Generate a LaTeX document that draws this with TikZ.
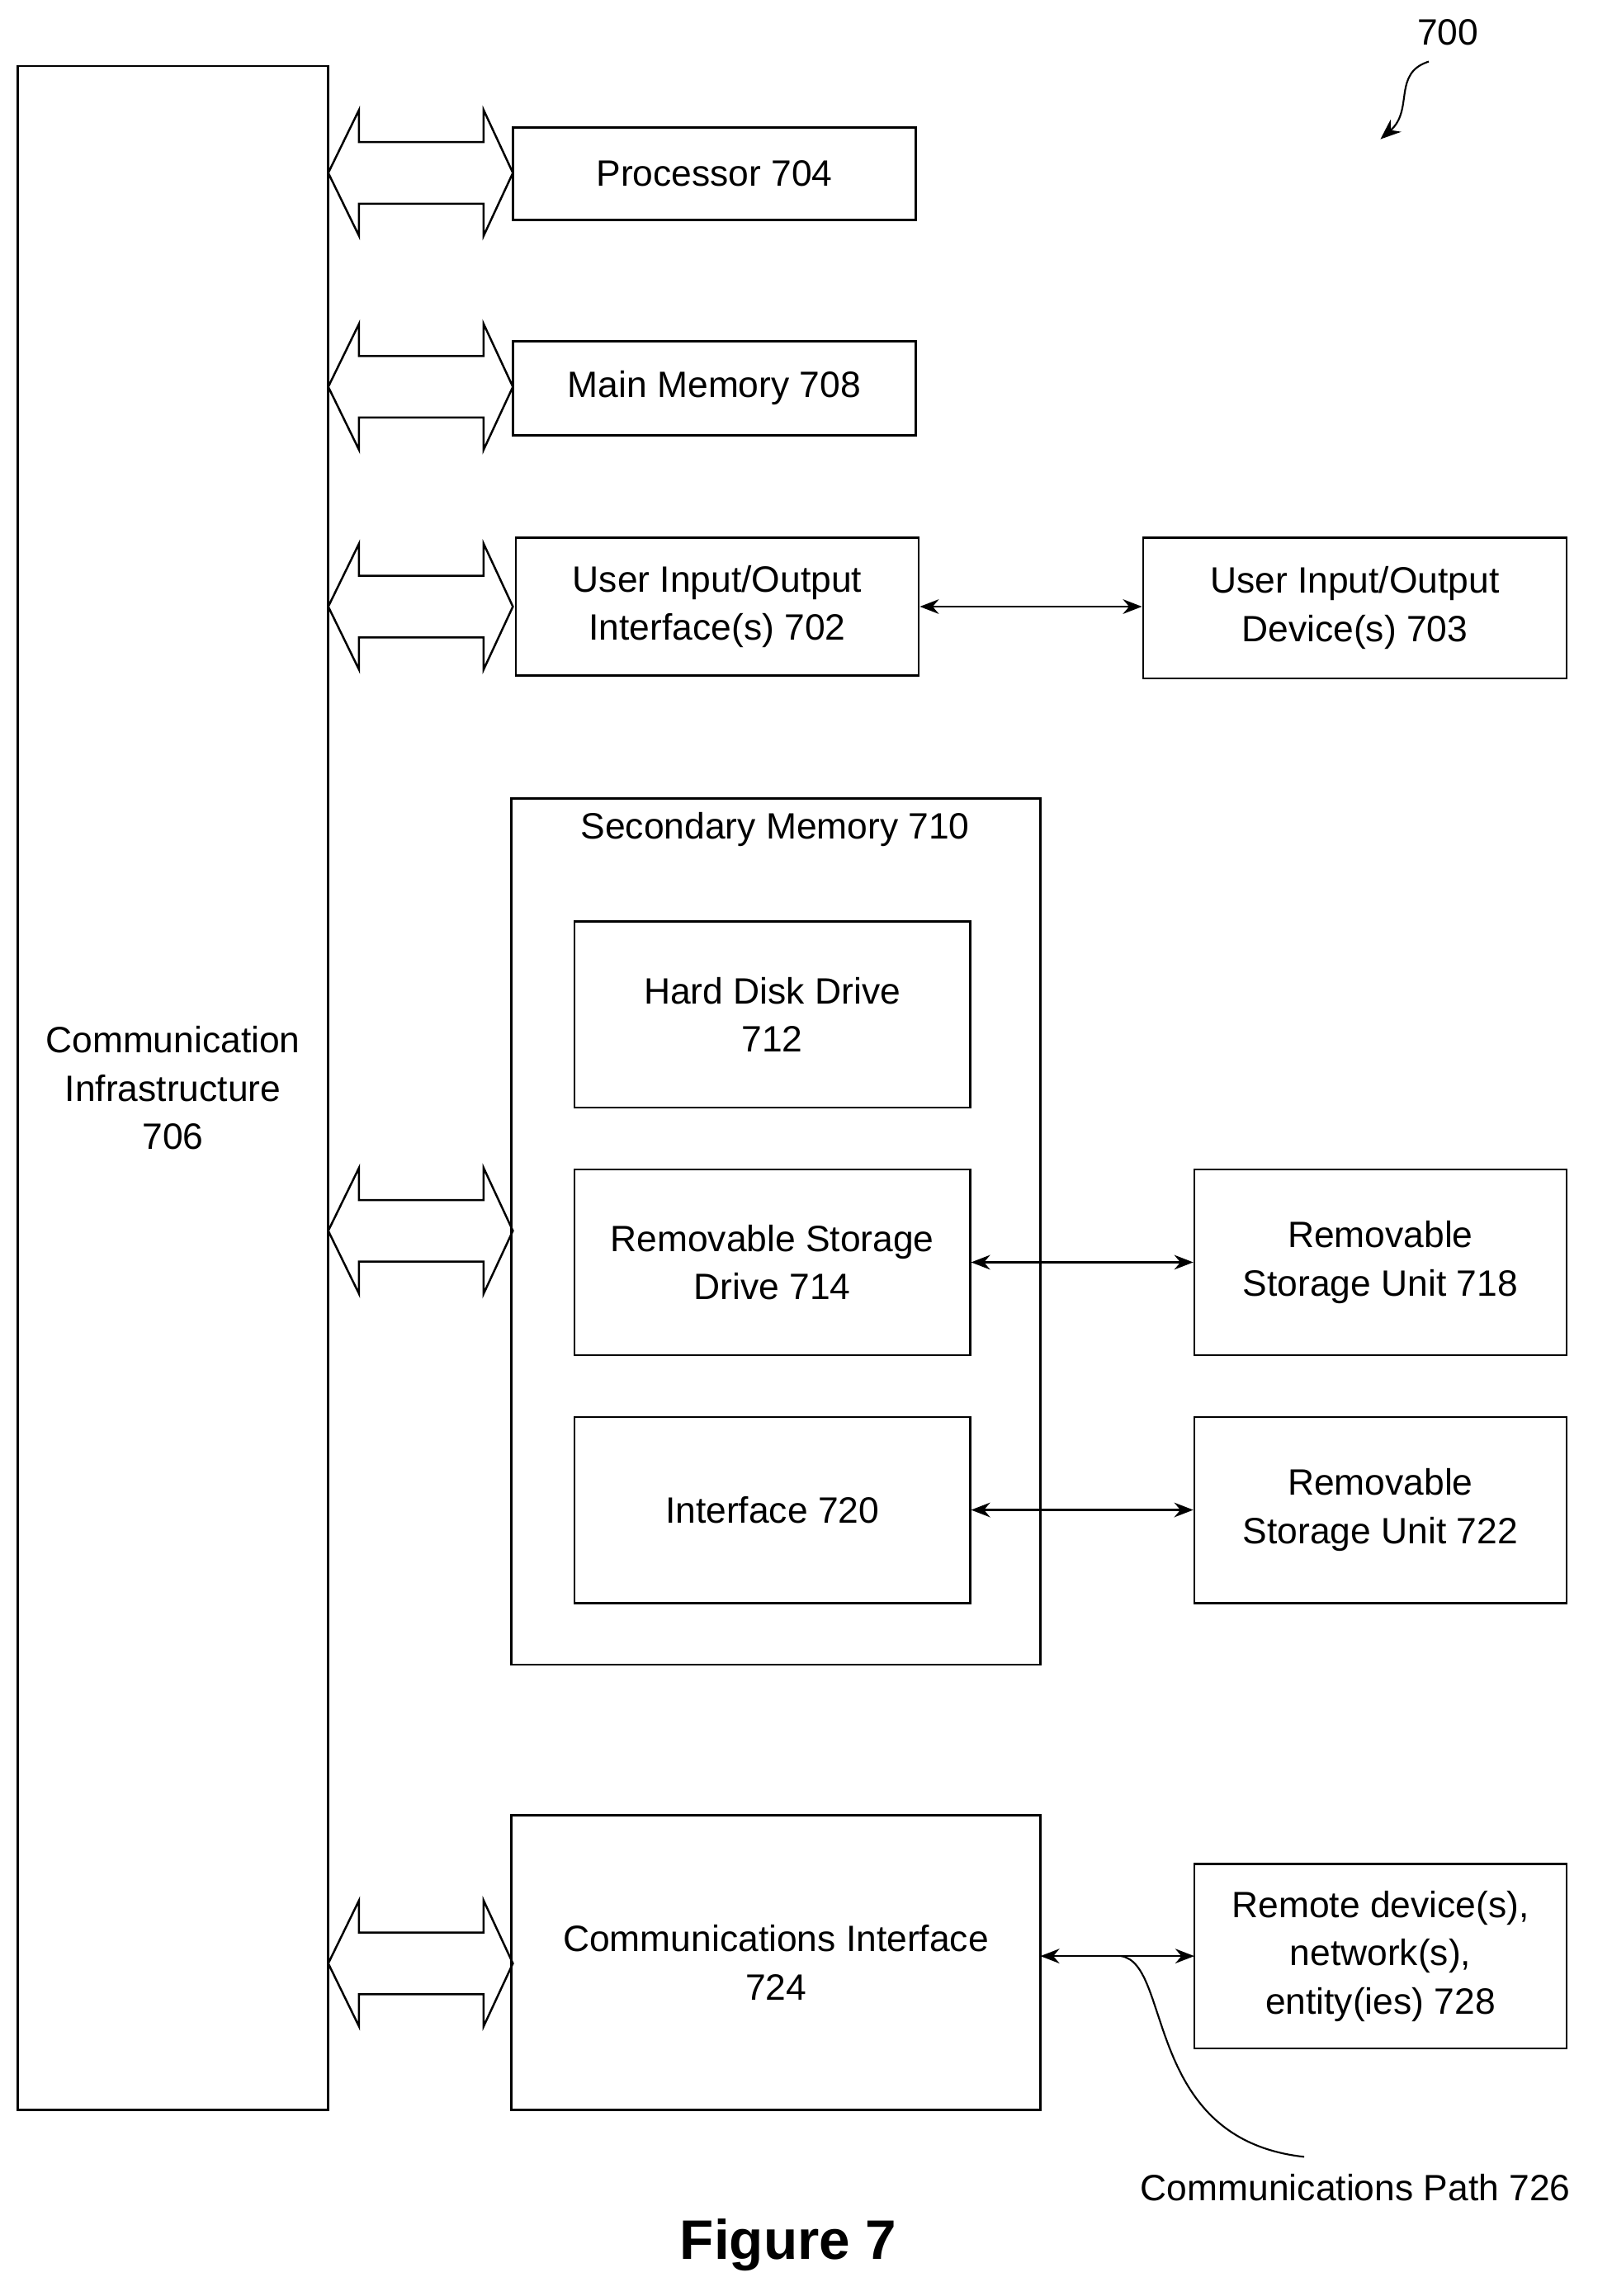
\documentclass[tikz,border=0pt]{standalone}
\usepackage{fontspec}
\setmainfont{Liberation Sans}
\usetikzlibrary{arrows.meta}
\begin{document}
\begin{tikzpicture}[x=1pt,y=-1pt,line width=1.4pt,
  box/.style={draw,align=center,inner sep=0pt,font=\fontsize{25}{33}\selectfont},
  conn/.style={{Stealth[length=13pt,width=10pt]}-{Stealth[length=13pt,width=10pt]}}]
\useasboundingbox (0,0) rectangle (1100,1567);
\newcommand\mkbox[6]{\node[box,minimum width=#4-#2,minimum height=#5-#3] (#1) at ({(#2+#4)/2},{(#3+#5)/2}) {#6};}
\newcommand\dblarrow[1]{\draw (224,#1) -- (245,#1-43) -- (245,#1-21) -- (330,#1-21) -- (330,#1-43) -- (350,#1) -- (330,#1+43) -- (330,#1+21) -- (245,#1+21) -- (245,#1+43) -- cycle;}
\mkbox{ci}{12}{45}{224}{1440}{Communication\\Infrastructure\\706}
\mkbox{proc}{350}{87}{625}{150}{Processor 704}
\mkbox{mm}{350}{233}{625}{297}{Main Memory 708}
\mkbox{uio}{352}{367}{627}{461}{User Input/Output\\Interface(s) 702}
\mkbox{uiod}{780}{367}{1069}{463}{User Input/Output\\Device(s) 703}
\mkbox{sm}{349}{545}{710}{1136}{}
\node[font=\fontsize{25}{33}\selectfont] (smlabel) at (529,566) {Secondary Memory 710};
\mkbox{hdd}{392}{629}{662}{756}{Hard Disk Drive\\712}
\mkbox{rsd}{392}{798}{662}{925}{Removable Storage\\Drive 714}
\mkbox{rsu}{815}{798}{1069}{925}{Removable\\Storage Unit 718}
\mkbox{intf}{392}{967}{662}{1094}{Interface 720}
\mkbox{rsu2}{815}{967}{1069}{1094}{Removable\\Storage Unit 722}
\mkbox{comi}{349}{1239}{710}{1440}{Communications Interface\\724}
\mkbox{rem}{815}{1272}{1069}{1398}{Remote device(s),\\network(s),\\entity(ies) 728}
\dblarrow{118}\dblarrow{264}\dblarrow{414}\dblarrow{840}\dblarrow{1340}
\draw[conn,line width=1.2pt] (uio.east) -- (uio.east -| uiod.west);
\draw[conn,line width=1.2pt] (rsd.east |- rsu.west) -- (rsu.west);
\draw[conn,line width=1.2pt] (intf.east |- rsu2.west) -- (rsu2.west);
\draw[conn,line width=1.2pt] (710,1335) -- (815,1335);
\coordinate (cp) at (765,1335);
\coordinate (cpe) at (890,1472);
\draw[line width=1.2pt] (cp) .. controls (800,1340) and (780,1460) .. (cpe);
\node[font=\fontsize{25}{33}\selectfont] (cpl) at (925,1493) {Communications Path 726};
\node[font=\fontsize{25}{33}\selectfont] (n700) at (988,22) {700};
\coordinate (a0) at (975,42);
\coordinate (a1) at (942,95);
\draw[-{Stealth[length=14pt,width=11pt]},line width=1.2pt] (a0) .. controls (950,50) and (965,75) .. (a1);
\node[font=\fontsize{38}{44}\selectfont\bfseries] (fig) at (538,1532) {Figure 7};
\end{tikzpicture}
\end{document}
